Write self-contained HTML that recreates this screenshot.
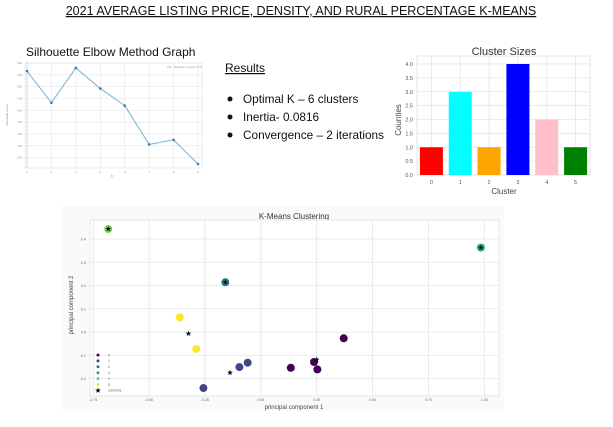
<!DOCTYPE html>
<html><head><meta charset="utf-8"><style>
html,body{margin:0;padding:0;background:#fff;}
svg{display:block;font-family:"Liberation Sans",sans-serif;}
</style></head><body>
<svg id="s" width="613" height="427" viewBox="0 0 613 427" xmlns="http://www.w3.org/2000/svg">
<text x="301" y="15" font-size="12.5" text-anchor="middle" fill="#111" text-decoration="underline">2021 AVERAGE LISTING PRICE, DENSITY, AND RURAL PERCENTAGE K-MEANS</text>
<text x="26" y="56" font-size="12" fill="#111">Silhouette Elbow Method Graph</text>
<text x="225" y="72" font-size="12" fill="#111" text-decoration="underline">Results</text>
<g font-size="11.8" fill="#111">
<circle cx="230" cy="99" r="2.5"/><text x="243" y="103">Optimal K – 6 clusters</text>
<circle cx="230" cy="117" r="2.5"/><text x="243" y="121">Inertia- 0.0816</text>
<circle cx="230" cy="135" r="2.5"/><text x="243" y="139">Convergence – 2 iterations</text>
</g>
<g id="elbow"></g>
<g id="bars"></g>
<g id="scatter"></g>
</svg>
<script>
// Silhouette data
const elbowK = [2,3,4,5,6,7,8,9];
const elbowScores = [0.566,0.432,0.579,0.492,0.420,0.256,0.275,0.173];
const elbowTicks = [0.60,0.55,0.50,0.45,0.40,0.35,0.30,0.25,0.20];
// Cluster sizes
const barCats = ['0','1','2','3','4','5'];
const barVals = [1,3,1,4,2,1];
const barColors = ['red','cyan','orange','blue','pink','green'];
const barTicks = [0,0.5,1,1.5,2,2.5,3,3.5,4];
// Scatter
const ptX = [0.371,0.134,0.238,0.253,-0.257,-0.096,-0.059,-0.159,0.985,-0.683,-0.363,-0.289];
const ptY = [-0.027,-0.154,-0.129,-0.161,-0.241,-0.151,-0.132,0.214,0.363,0.443,0.063,-0.073];
const ptCluster = [0,0,0,0,1,1,1,2,3,4,5,5];
const centX = [0.25,-0.138,-0.159,0.985,-0.683,-0.324];
const centY = [-0.119,-0.175,0.214,0.363,0.443,-0.007];
const xTicks = [-0.75,-0.5,-0.25,0,0.25,0.5,0.75,1.0];
const xTickLabels = ['-0.75','-0.50','-0.25','0.00','0.25','0.50','0.75','1.00'];
const yTicks = [-0.2,-0.1,0,0.1,0.2,0.3,0.4];
const yTickLabels = ['-0.2','-0.1','0.0','0.1','0.2','0.3','0.4'];
const viridis = ['#440154','#414487','#2a788e','#22a884','#7ad151','#fde725'];

const NS='http://www.w3.org/2000/svg';
function mk(p,tag,a){const e=document.createElementNS(NS,tag);for(const k in a)e.setAttribute(k,a[k]);p.appendChild(e);return e;}
function txt(p,x,y,s,a){const e=mk(p,'text',Object.assign({x:x,y:y},a));e.textContent=s;return e;}

// Elbow
(function(){
 const g=document.getElementById('elbow');
 const L=27,R=198,T=63,B=168;
 const sx=k=>L+(k-2)/7*(R-L)+0;
 const sy=v=>63+(0.60-v)/0.05*11.83;
 mk(g,'rect',{x:L-2,y:T,width:R-L+6,height:B-T,fill:'#fff',stroke:'#ddd','stroke-width':0.5});
 elbowTicks.forEach(t=>{mk(g,'line',{x1:L-2,x2:R+4,y1:sy(t),y2:sy(t),stroke:'#e6e6e6','stroke-width':0.6});txt(g,L-5,sy(t)+1,t.toFixed(2),{'font-size':2.5,'text-anchor':'end',fill:'#888'});});
 elbowK.forEach(k=>{mk(g,'line',{x1:sx(k),x2:sx(k),y1:T,y2:B,stroke:'#e6e6e6','stroke-width':0.6});txt(g,sx(k),B+5,k,{'font-size':2.5,'text-anchor':'middle',fill:'#888'});});
 mk(g,'line',{x1:L,x2:L,y1:T,y2:B,stroke:'#999','stroke-width':0.6,'stroke-dasharray':'1,1'});
 const pts=elbowK.map((k,i)=>sx(k)+','+sy(elbowScores[i])).join(' ');
 const pl=mk(g,'polyline',{points:pts,fill:'none',stroke:'#7fb8d6','stroke-width':1.1});
 
 
 elbowK.forEach((k,i)=>{const c=mk(g,'circle',{cx:sx(k),cy:sy(elbowScores[i]),r:1.3,fill:'#2c7fb8'});
  
  });
 txt(g,8,115,'silhouette score',{'font-size':3,fill:'#888',transform:'rotate(-90 8 115)','text-anchor':'middle'});
 txt(g,112,177,'k',{'font-size':3.5,fill:'#888','text-anchor':'middle'});
 mk(g,'line',{x1:167,x2:172,y1:67,y2:67,stroke:'#7fb8d6','stroke-width':0.8});
 txt(g,174,68,'elbow at k = 2, score = 0.57',{'font-size':2.3,fill:'#888'});
})();

// Bars
(function(){
 const g=document.getElementById('bars');
 const L=417,R=590,T=56,B=175;
 const sy=v=>B-v/4*(B-64);
 const step=(R-L)/6;
 const sx=i=>L+step*(i+0.5);
 txt(g,504,55,'Cluster Sizes',{'font-size':11,'text-anchor':'middle',fill:'#333'});
 mk(g,'rect',{x:L,y:T,width:R-L,height:B-T,fill:'#fff',stroke:'#e0e0e0','stroke-width':0.8});
 barTicks.forEach(t=>{mk(g,'line',{x1:L,x2:R,y1:sy(t),y2:sy(t),stroke:'#e4e4e4','stroke-width':0.8});txt(g,L-4,sy(t)+2,t.toFixed(1),{'font-size':5.5,'text-anchor':'end',fill:'#555'});});
 barCats.forEach((c,i)=>{mk(g,'line',{x1:sx(i),x2:sx(i),y1:T,y2:B,stroke:'#e4e4e4','stroke-width':0.8});txt(g,sx(i),B+9,c,{'font-size':5.5,'text-anchor':'middle',fill:'#555'});});
 barVals.forEach((v,i)=>{const r=mk(g,'rect',{x:sx(i)-11.5,y:sy(v),width:23,height:sy(0)-sy(v),fill:barColors[i]});
  
  });
 txt(g,504,194,'Cluster',{'font-size':8,'text-anchor':'middle',fill:'#444'});
 txt(g,401,120,'Counties',{'font-size':8,'text-anchor':'middle',fill:'#444',transform:'rotate(-90 401 120)'});
})();

// Scatter
(function(){
 const g=document.getElementById('scatter');
 const L=90,R=499,T=220,B=396;
 const sx=v=>93.3+(v+0.75)*223.4;
 const sy=v=>332-v*232.5;
 mk(g,'rect',{x:62,y:206,width:442,height:205,fill:'#fafafa'});
 txt(g,294,219,'K-Means Clustering',{'font-size':8,'text-anchor':'middle',fill:'#333'});
 mk(g,'rect',{x:L,y:T,width:R-L,height:B-T,fill:'#fff',stroke:'#e2e2e2','stroke-width':0.8});
 xTicks.forEach((t,i)=>{mk(g,'line',{x1:sx(t),x2:sx(t),y1:T,y2:B,stroke:'#e4e4e4','stroke-width':0.8});txt(g,sx(t),B+5,xTickLabels[i],{'font-size':3.5,'text-anchor':'middle',fill:'#666'});});
 yTicks.forEach((t,i)=>{mk(g,'line',{x1:L,x2:R,y1:sy(t),y2:sy(t),stroke:'#e4e4e4','stroke-width':0.8});txt(g,L-4,sy(t)+1.5,yTickLabels[i],{'font-size':3.8,'text-anchor':'end',fill:'#666'});});
 ptX.forEach((x,i)=>{const c=mk(g,'circle',{cx:sx(x),cy:sy(ptY[i]),r:4,fill:viridis[ptCluster[i]]});
  
  });
 function star(cx,cy,r){let p=[];for(let k=0;k<10;k++){const a=-Math.PI/2+k*Math.PI/5,rr=k%2?r*0.42:r;p.push((cx+rr*Math.cos(a)).toFixed(2)+','+(cy+rr*Math.sin(a)).toFixed(2));}return p.join(' ');}
 centX.forEach((x,i)=>{const s=mk(g,'polygon',{points:star(sx(x),sy(centY[i]),3),fill:'#111'});
  
  });
 viridis.forEach((c,i)=>{const y=355+i*5.9;mk(g,'circle',{cx:98,cy:y,r:1.5,fill:c});txt(g,108,y+1.3,String(i),{'font-size':3.5,fill:'#666'});});
 mk(g,'polygon',{points:star(98,390.5,3),fill:'#111'});
 txt(g,108,391.5,'centroids',{'font-size':3.3,fill:'#666'});
 txt(g,294,409,'principal component 1',{'font-size':6,'text-anchor':'middle',fill:'#444'});
 txt(g,73,305,'principal component 2',{'font-size':6,'text-anchor':'middle',fill:'#444',transform:'rotate(-90 73 305)'});
})();
</script>
</body></html>
